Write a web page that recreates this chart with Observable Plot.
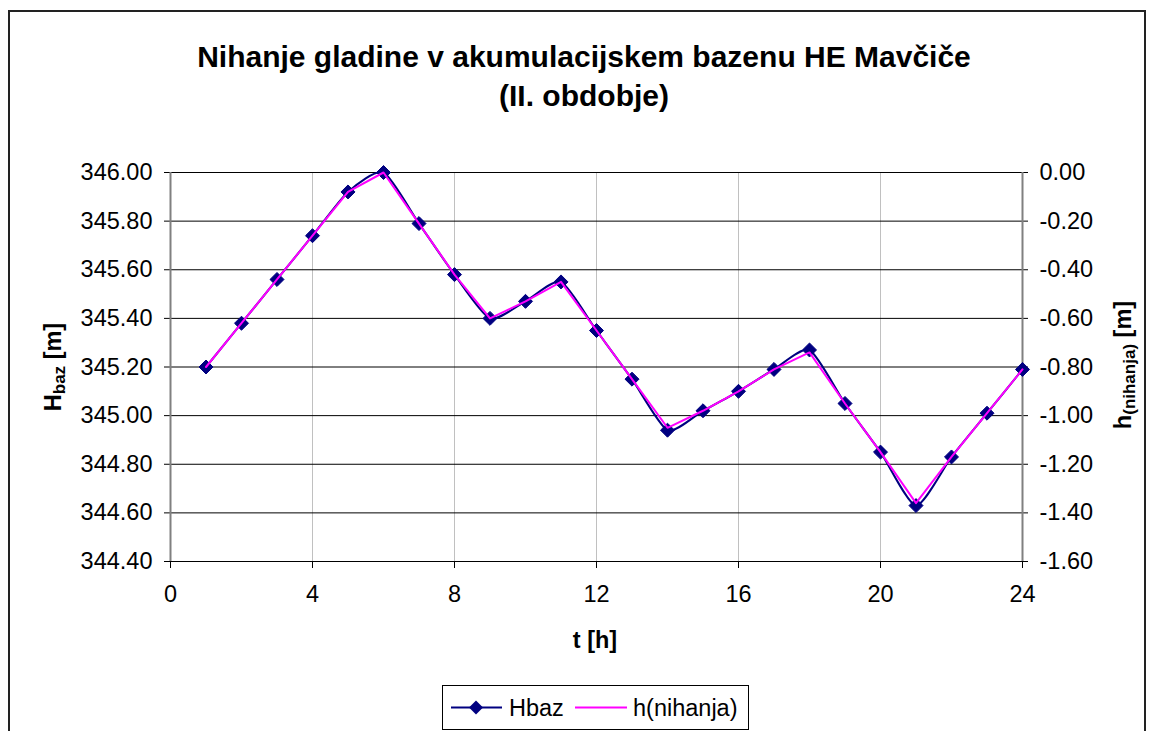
<!DOCTYPE html>
<html>
<head>
<meta charset="utf-8">
<script src="https://cdn.jsdelivr.net/npm/d3@7"></script>
<script src="https://cdn.jsdelivr.net/npm/@observablehq/plot@0.6"></script>
<style>
  html, body { margin: 0; padding: 0; background: #fff; }
  #wrap { position: relative; width: 1154px; height: 731px; overflow: hidden; }
  #frame { position: absolute; left: 8px; top: 10px; width: 1138px; height: 740px; border: 2px solid #222; box-sizing: border-box; }
  #chart { position: absolute; left: 0; top: 0; }
</style>
</head>
<body>
<div id="wrap"><div id="frame"></div><div id="chart"></div></div>
<script>
// ---- data ----
const hours = [1,2,3,4,5,6,7,8,9,10,11,12,13,14,15,16,17,18,19,20,21,22,23,24];
const hbaz  = [345.20,345.38,345.56,345.74,345.92,346.00,345.79,345.58,345.40,345.47,345.55,345.35,
               345.15,344.94,345.02,345.10,345.19,345.27,345.05,344.85,344.63,344.83,345.01,345.19];
const hnihanja = [-0.80,-0.62,-0.44,-0.26,-0.08,0.00,-0.21,-0.42,-0.60,-0.53,-0.45,-0.65,
                  -0.85,-1.05,-0.98,-0.90,-0.81,-0.74,-0.95,-1.15,-1.36,-1.17,-0.99,-0.81];
const xTicks = [0,4,8,12,16,20,24];
const yTicks = [344.4,344.6,344.8,345.0,345.2,345.4,345.6,345.8,346.0];
const hTicks = [-1.6,-1.4,-1.2,-1.0,-0.8,-0.6,-0.4,-0.2,0.0];
const hOffset = 346; // secondary axis: h = Hbaz - 346
const titleLines = ["Nihanje gladine v akumulacijskem bazenu HE Mavčiče", "(II. obdobje)"];
const seriesNames = ["Hbaz", "h(nihanja)"];
const colors = {hbaz: "#000080", h: "#ff00ff"};

const rows = hours.map((t, i) => ({t, H: hbaz[i], h: hnihanja[i]}));
const font = "'Liberation Sans', Arial, sans-serif";
const markerR = 6.3;

const chart = Plot.plot({
  width: 1154, height: 731,
  marginLeft: 170, marginRight: 132, marginTop: 172, marginBottom: 170,
  style: {fontFamily: font, fontSize: "23.5px", background: "transparent", color: "#000"},
  x: {domain: [0, 24]},
  y: {domain: [344.4, 346.0]},
  marks: [
    Plot.gridX(xTicks.slice(1, -1), {stroke: "#c0c0c0", strokeOpacity: 1}),
    Plot.gridY(yTicks, {stroke: "#000", strokeOpacity: 1}),
    Plot.axisY(yTicks, {anchor: "left", tickFormat: d => d.toFixed(2), tickSize: 6, tickPadding: 12, label: null, fontSize: 23.5}),
    Plot.axisY(yTicks, {anchor: "right", tickFormat: (d, i) => hTicks[i].toFixed(2), tickSize: 5, tickPadding: 12, label: null, fontSize: 23.5}),
    Plot.axisX(xTicks, {anchor: "bottom", tickSize: 7, tickPadding: 17, label: null, fontSize: 23.5}),
    Plot.ruleX([0, 24], {stroke: "#808080", strokeWidth: 2}),
    Plot.line(rows, {x: "t", y: "H", stroke: colors.hbaz, strokeWidth: 2, curve: "cardinal", tension: 0.35}),
    Plot.dot(rows, {x: "t", y: "H", symbol: "diamond2", r: markerR, fill: colors.hbaz, stroke: colors.hbaz, strokeWidth: 1}),
    Plot.line(rows, {x: "t", y: d => d.h + hOffset, stroke: colors.h, strokeWidth: 2})
  ]
});
document.getElementById("chart").appendChild(chart);

const svg = d3.select(chart);
// Title
const title = svg.append("text").attr("text-anchor", "middle").attr("font-family", font)
  .attr("font-weight", "bold").attr("font-size", 30).attr("fill", "#000");
titleLines.forEach((line, i) => title.append("tspan").attr("x", 584).attr("y", 67 + i * 39).text(line));

// x axis title
svg.append("text").attr("x", 595).attr("y", 648).attr("text-anchor", "middle")
  .attr("font-family", font).attr("font-weight", "bold").attr("font-size", 23.5).text("t [h]");

// left axis title
const lt = svg.append("text").attr("transform", "translate(61,367) rotate(-90)").attr("text-anchor", "middle")
  .attr("font-family", font).attr("font-weight", "bold").attr("font-size", 23.5);
lt.append("tspan").text("H");
lt.append("tspan").attr("font-size", 17).attr("dy", 4).text("baz");
lt.append("tspan").attr("dy", -4).text(" [m]");

// right axis title
const rt = svg.append("text").attr("transform", "translate(1131,365) rotate(-90)").attr("text-anchor", "middle")
  .attr("font-family", font).attr("font-weight", "bold").attr("font-size", 23.5);
rt.append("tspan").text("h");
rt.append("tspan").attr("font-size", 17).attr("dy", 4).text("(nihanja)");
rt.append("tspan").attr("dy", -4).text(" [m]");

// legend
const lg = svg.append("g").attr("text-anchor", "start");
lg.append("rect").attr("x", 442.5).attr("y", 685.5).attr("width", 306).attr("height", 44)
  .attr("fill", "#fff").attr("stroke", "#000").attr("stroke-width", 1);
lg.append("line").attr("x1", 451).attr("x2", 502).attr("y1", 707.5).attr("y2", 707.5)
  .attr("stroke", colors.hbaz).attr("stroke-width", 2);
lg.append("path").attr("d", d3.symbol(d3.symbolDiamond2, Math.PI * markerR * markerR)())
  .attr("transform", "translate(476,707.5)").attr("fill", colors.hbaz);
lg.append("text").attr("x", 509).attr("y", 716).attr("font-family", font).attr("font-size", 23.5).text(seriesNames[0]);
lg.append("line").attr("x1", 575).attr("x2", 627).attr("y1", 707.5).attr("y2", 707.5)
  .attr("stroke", colors.h).attr("stroke-width", 2);
lg.append("text").attr("x", 633).attr("y", 716).attr("font-family", font).attr("font-size", 23.5).text(seriesNames[1]);
</script>
</body>
</html>
